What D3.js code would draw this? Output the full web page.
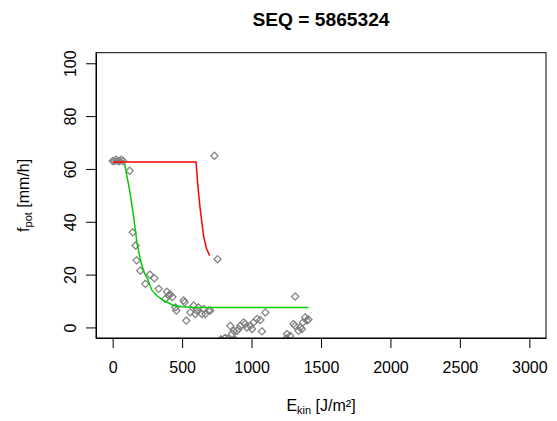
<!DOCTYPE html>
<html>
<head lang="en">
  <title>SEQ 5865324</title>
  <script src="https://d3js.org/d3.v7.min.js" charset="utf-8"></script>
  <style>
    body { margin: 0; background: #fff; }
    text { font-family: "Liberation Sans", Arial, sans-serif; }
  </style>
</head>
<body>
  <script>

    // observed points (E_kin, f_pot)
    var obsX = [0, 12, 25, 38, 50, 62, 75, 122, 733, 755,
                144, 165, 172, 199, 235, 268, 300, 331, 391, 379,
                403, 415, 430, 451, 458, 511, 518, 530, 559, 583,
                595, 617, 607, 643, 655, 667, 691, 703,
                847, 859, 871, 895, 907, 919, 943, 955, 967, 991,
                1003, 1014, 1039, 1063, 1075, 1099, 1255, 1278, 1302, 1314,
                1314, 1338, 1350, 1363, 1370, 1386, 1398, 1410,
                780, 810, 830, 880, 1250, 1265];
    var obsY = [63, 63, 63.5, 63, 63, 63.5, 63, 59.3, 65, 25.8,
                36, 31, 25.4, 21.5, 16.5, 20, 18.6, 14.6, 13.5, 10.8,
                12.1, 12.5, 11.5, 7.6, 6.4, 10.2, 9.5, 2.6, 5.7, 8.3,
                5.1, 7.6, 6.4, 5.1, 7, 5.1, 6.4, 6.4,
                0.6, -2.5, -1.3, -1.3, -0.6, 0.6, 1.9, 1.3, 0, 0.6,
                -0.6, 1.9, 3.2, 2.8, -1.5, 5.7, -2.5, -3.2, 1.3, 11.7,
                0.6, -1.3, 0, -0.6, 1.9, 3.8, 2.6, 3,
                -4.5, -4, -4.3, -4.6, -4.2, -4.8];

    // red model line
    var redX = [0, 600, 614, 631, 655, 675, 698];
    var redY = [62.6, 62.6, 53.3, 44.4, 34.5, 30, 27.2];

    // green model line
    var greenX = [84, 100, 122, 151, 175, 200, 225, 250, 283, 320, 367, 439, 500, 600, 800, 1000, 1200, 1410];
    var greenY = [62.5, 58, 52, 42, 32, 25.5, 21, 18.5, 14, 12, 10.2, 8.3, 7.8, 7.5, 7.5, 7.5, 7.5, 7.5];

    var xTicks = [0, 500, 1000, 1500, 2000, 2500, 3000];
    var yTicks = [0, 20, 40, 60, 80, 100];

    var width = 557, height = 421;
    var mLeft = 96, mRight = 546, mTop = 52.7, mBottom = 338;

    var svg = d3.select("body").append("svg")
      .attr("width", width)
      .attr("height", height);

    var x = d3.scaleLinear().domain([-120, 3120]).range([mLeft, mRight]);
    var y = d3.scaleLinear().domain([-4, 104]).range([mBottom, mTop]);

    svg.append("clipPath").attr("id", "plot")
      .append("rect")
      .attr("x", mLeft).attr("y", mTop)
      .attr("width", mRight - mLeft).attr("height", mBottom - mTop);

    var g = svg.append("g").attr("clip-path", "url(#plot)");

    // points
    var diamond = function(d) {
      var cx = x(d[0]), cy = y(d[1]), r = 3.6;
      return "M" + cx + "," + (cy - r) + "L" + (cx + r) + "," + cy +
             "L" + cx + "," + (cy + r) + "L" + (cx - r) + "," + cy + "Z";
    };
    g.selectAll("path.pt")
      .data(d3.zip(obsX, obsY))
      .enter().append("path")
        .attr("class", "pt")
        .attr("d", diamond)
        .attr("fill", "none")
        .attr("stroke", "#7f7f7f")
        .attr("stroke-width", 1.2);

    var line = d3.line()
      .x(function(d) { return x(d[0]); })
      .y(function(d) { return y(d[1]); });

    g.append("path")
      .datum(d3.zip(greenX, greenY))
      .attr("d", line)
      .attr("fill", "none")
      .attr("stroke", "#00cd00")
      .attr("stroke-width", 1.5);

    g.append("path")
      .datum(d3.zip(redX, redY))
      .attr("d", line)
      .attr("fill", "none")
      .attr("stroke", "#ff0000")
      .attr("stroke-width", 1.5);

    // box
    svg.append("rect")
      .attr("x", mLeft).attr("y", mTop)
      .attr("width", mRight - mLeft).attr("height", mBottom - mTop)
      .attr("fill", "none")
      .attr("stroke", "#000")
      .attr("stroke-width", 1);

    // x axis
    var xa = svg.append("g")
      .attr("transform", "translate(0," + mBottom + ")")
      .call(d3.axisBottom(x).tickValues(xTicks).tickSize(10).tickSizeOuter(0).tickPadding(14)
        .tickFormat(d3.format("d")));
    xa.selectAll("text")
      .attr("font-size", "16px")
      .attr("font-family", "'Liberation Sans', Arial, sans-serif")
      .attr("fill", "#000");

    // y axis
    var ya = svg.append("g")
      .attr("transform", "translate(" + mLeft + ",0)")
      .call(d3.axisLeft(y).tickValues(yTicks).tickSize(10).tickSizeOuter(0).tickFormat(d3.format("d")));
    ya.selectAll("text").remove();
    ya.selectAll(".tick").append("text")
      .attr("transform", "translate(-20,0) rotate(-90)")
      .attr("text-anchor", "middle")
      .attr("font-size", "16px")
      .attr("font-family", "'Liberation Sans', Arial, sans-serif")
      .attr("fill", "#000")
      .text(function(d) { return d; });

    svg.selectAll(".domain").attr("stroke", "#000");
    svg.selectAll(".tick line").attr("stroke", "#000");

    // title
    svg.append("text")
      .attr("x", (mLeft + mRight) / 2)
      .attr("y", 26)
      .attr("text-anchor", "middle")
      .attr("font-size", "19.2px")
      .attr("font-weight", "bold")
      .text("SEQ = 5865324");

    // x label
    var xl = svg.append("text")
      .attr("x", (mLeft + mRight) / 2)
      .attr("y", 411)
      .attr("text-anchor", "middle")
      .attr("font-size", "16px");
    xl.append("tspan").text("E");
    xl.append("tspan").attr("font-size", "11px").attr("dy", 3).text("kin");
    xl.append("tspan").attr("dy", -3).text(" [J/m²]");

    // y label
    var yl = svg.append("text")
      .attr("transform", "translate(29," + ((mTop + mBottom) / 2) + ") rotate(-90)")
      .attr("text-anchor", "middle")
      .attr("font-size", "16px");
    yl.append("tspan").text("f");
    yl.append("tspan").attr("font-size", "11px").attr("dy", 3).text("pot");
    yl.append("tspan").attr("dy", -3).text(" [mm/h]");

  </script>
</body>
</html>
